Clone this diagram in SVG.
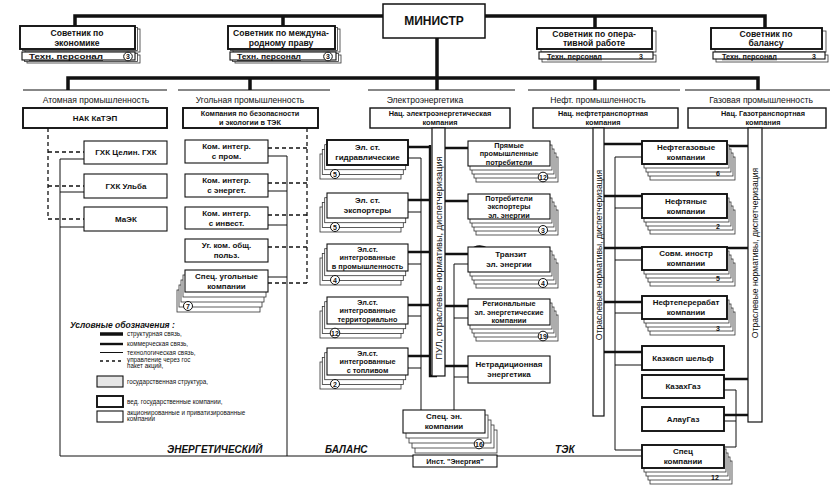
<svg xmlns="http://www.w3.org/2000/svg" width="835" height="494" viewBox="0 0 835 494">
<style>
.b{fill:#fff;stroke:#111;stroke-width:1.1}
.bk{fill:#fff;stroke:#111;stroke-width:1.9}
.c{fill:#fff;stroke:#333;stroke-width:0.8}
.g{fill:#e6e6e6;stroke:#111;stroke-width:1.1}
.t{font-family:"Liberation Sans",Arial,sans-serif;font-size:8px;font-weight:bold;fill:#111;text-anchor:middle}
.s{font-size:7.3px}
.big{font-size:12px}
.adv{font-size:8.6px}
.h{font-family:"Liberation Sans",Arial,sans-serif;font-size:8.6px;fill:#111;text-anchor:middle}
.v{font-family:"Liberation Sans",Arial,sans-serif;font-size:8.6px;fill:#111;text-anchor:middle}
.l{font-family:"Liberation Sans",Arial,sans-serif;font-size:6.3px;fill:#111}
.n{font-family:"Liberation Sans",Arial,sans-serif;font-size:7px;font-weight:bold;fill:#111;text-anchor:middle}
.tp{font-family:"Liberation Sans",Arial,sans-serif;font-size:7px;font-weight:bold;fill:#111;text-decoration:underline}
.it{font-family:"Liberation Sans",Arial,sans-serif;font-weight:bold;font-style:italic;fill:#111}
.ci{fill:#fff;stroke:#111;stroke-width:1}
.st{fill:none;stroke:#111;stroke-width:3.5}
.cm{fill:none;stroke:#111;stroke-width:2.4}
.tc{fill:none;stroke:#111;stroke-width:1}
.ds{fill:none;stroke:#111;stroke-width:1.3;stroke-dasharray:4 3}
.hl{fill:none;stroke:#111;stroke-width:1.2}
.bar{fill:#fff;stroke:#111;stroke-width:1.2}
</style>

<g id="connectors">
<path class="st" d="M75,27 V16 H383 M485,16 H765 V28 M283,16 V26 M595,16 V28"/>
<path class="st" d="M437,38 V90 M68,90 V78 H758 V90 M250,78 V90 M595,78 V90"/>
<path class="hl" d="M23,90 H167 M178,90 H330 M368,90 H515 M528,90 H680 M685,90 H830"/>
<path class="ds" d="M48,128 V219 M48,152 H84 M48,186 H84 M48,219 H84"/>
<path class="tc" d="M84,159 H60 V456 H413 M60,192 H84 M60,227 H84"/>
<path class="ds" d="M307,128 V283 M268,148 H307 M268,183 H307 M268,215 H307 M268,247 H307 M268,283 H307"/>
<path class="tc" d="M287,156 V456 M268,156 H287 M268,191 H287 M268,225 H287 M268,277 H287"/>
<path class="cm" d="M408,147 H430 M408,200 H430 M408,252 H430 M408,305 H430 M408,356 H430 M430,145 V376 H437"/>
<path class="tc" d="M408,158 H421 V410 M408,212 H421 M408,264 H421 M408,316 H421 M408,368 H421"/>
<path class="cm" d="M445,148 H468 M445,201 H468 M445,254 H468 M445,306 H468 M445,366 H468"/>
<path class="cm" d="M470,251 Q478,243 488,249"/>
<path class="tc" d="M468,264 H454 V410 M454,318 H468 M454,377 H468"/>
<path class="tc" d="M497,456 H642"/>
<path class="cm" d="M604,144 H642 M604,196 H642 M604,248 H642 M604,302 H642 M604,352 H642"/>
<path class="tc" d="M642,157 H615 V450 H642 M615,208 H642 M615,260 H642 M615,313 H642 M615,365 H642"/>
<path class="cm" d="M727,146 H748 M727,248 H748 M724,379 H748 M724,415 H748"/>
<path class="tc" d="M724,390 H736 V447 H724 M724,421 H736"/>
</g>

<g id="minister">
<rect class="b" x="383" y="4" width="102" height="34" style="stroke-width:1.5"/>
<text class="t big" x="434" y="25">МИНИСТР</text>
</g>

<g id="adv-economy">
<rect class="c" x="25" y="29" width="115" height="23"/>
<rect class="c" x="22.5" y="27.5" width="115" height="23"/>
<rect class="bk" x="20" y="26" width="115" height="23"/>
<text class="t adv" x="77" y="35.5">Советник по</text>
<text class="t adv" x="77" y="45.5">экономике</text>
<rect class="c" x="27" y="55" width="113" height="8"/>
<rect class="c" x="24.5" y="53.5" width="113" height="8"/>
<rect class="b" x="22" y="52" width="113" height="8"/>
<text class="tp" x="29" y="59" textLength="74" lengthAdjust="spacingAndGlyphs">Техн. персонал</text>
<circle class="ci" cx="128" cy="56.5" r="4.3"/>
<text class="n" x="128" y="59">3</text>
</g>

<g id="adv-law">
<rect class="c" x="233" y="29" width="107" height="23"/>
<rect class="c" x="230.5" y="27.5" width="107" height="23"/>
<rect class="bk" x="228" y="26" width="107" height="23"/>
<text class="t adv" x="281" y="35.5">Советник по междуна-</text>
<text class="t adv" x="281" y="45.5">родному праву</text>
<rect class="c" x="235" y="55" width="106" height="8"/>
<rect class="c" x="232.5" y="53.5" width="106" height="8"/>
<rect class="b" x="230" y="52" width="106" height="8"/>
<text class="tp" x="237" y="59" textLength="64" lengthAdjust="spacingAndGlyphs">Техн. персонал</text>
<circle class="ci" cx="328" cy="56.5" r="4.3"/>
<text class="n" x="328" y="59">3</text>
</g>

<g id="adv-oper">
<rect class="c" x="541" y="31" width="115" height="21"/>
<rect class="bk" x="537" y="28" width="115" height="21"/>
<text class="t adv" x="594" y="36.5">Советник по опера-</text>
<text class="t adv" x="594" y="46">тивной работе</text>
<rect class="c" x="542" y="55" width="114" height="7"/>
<rect class="b" x="539" y="52" width="114" height="7"/>
<text class="tp" x="547" y="58.5" textLength="55" lengthAdjust="spacingAndGlyphs">Техн. персонал</text>
<text class="n" x="641" y="58.5">3</text>
</g>

<g id="adv-balance">
<rect class="c" x="715" y="31" width="111" height="21"/>
<rect class="bk" x="711" y="28" width="111" height="21"/>
<text class="t adv" x="766" y="36.5">Советник по</text>
<text class="t adv" x="766" y="46">балансу</text>
<rect class="c" x="716" y="55" width="112" height="7"/>
<rect class="b" x="713" y="52" width="112" height="7"/>
<text class="tp" x="722" y="58.5" textLength="55" lengthAdjust="spacingAndGlyphs">Техн. персонал</text>
<text class="n" x="814" y="58.5">3</text>
</g>

<g id="headers">
<text class="h" x="96" y="103">Атомная промышленность</text>
<text class="h" x="250" y="103">Угольная промышленность</text>
<text class="h" x="425" y="103">Электроэнергетика</text>
<text class="h" x="598" y="103">Нефт. промышленность</text>
<text class="h" x="761" y="103">Газовая промышленность</text>
</g>

<g id="nak-katep">
<rect class="bk" x="23" y="108" width="144" height="20"/>
<text class="t" x="95" y="121">НАК КаТЭП</text>
</g>
<g id="ghk-celin">
<rect class="b" x="84" y="141" width="83" height="23"/>
<text class="t" x="126" y="155.3">ГХК Целин. ГХК</text>
</g>
<g id="ghk-ulba">
<rect class="b" x="84" y="174" width="83" height="24"/>
<text class="t" x="126" y="189">ГХК Ульба</text>
</g>
<g id="maek">
<rect class="b" x="84" y="207" width="83" height="24"/>
<text class="t" x="126" y="222">МаЭК</text>
</g>

<g id="coal-safety">
<rect class="bk" x="183" y="108" width="135" height="20"/>
<text class="t s" x="250" y="116.4">Компания по безопасности</text>
<text class="t s" x="250" y="125">и экологии в ТЭК</text>
</g>
<g id="coal-1">
<rect class="b" x="185" y="140" width="83" height="23"/>
<text class="t" x="226.5" y="149.3">Ком. интегр.</text>
<text class="t" x="226.5" y="159.3">с пром.</text>
</g>
<g id="coal-2">
<rect class="b" x="185" y="174" width="83" height="23"/>
<text class="t" x="226.5" y="183.3">Ком. интегр.</text>
<text class="t" x="226.5" y="193.3">с энергет.</text>
</g>
<g id="coal-3">
<rect class="b" x="185" y="207" width="83" height="22"/>
<text class="t" x="226.5" y="215.8">Ком. интегр.</text>
<text class="t" x="226.5" y="225.8">с инвест.</text>
</g>
<g id="coal-4">
<rect class="b" x="185" y="239" width="83" height="23"/>
<text class="t" x="226.5" y="248.3">Уг. ком. общ.</text>
<text class="t" x="226.5" y="258.3">польз.</text>
</g>
<g id="coal-spec">
<rect class="c" x="177" y="290" width="83" height="22"/>
<rect class="c" x="179" y="285" width="83" height="22"/>
<rect class="c" x="181" y="280" width="83" height="22"/>
<rect class="c" x="183" y="275" width="83" height="22"/>
<rect class="b" x="185" y="270" width="83" height="22"/>
<text class="t" x="226.5" y="278.8">Спец. угольные</text>
<text class="t" x="226.5" y="288.8">компании</text>
<circle class="ci" cx="188" cy="306" r="4.5"/>
<text class="n" x="188" y="308.5">7</text>
</g>

<g id="elec-nat">
<rect class="b" x="370" y="108" width="140" height="20" style="stroke-width:1.4"/>
<text class="t s" x="440" y="116.4">Нац. электроэнергетическая</text>
<text class="t s" x="440" y="125">компания</text>
</g>
<g id="pul-bar">
<rect class="bar" x="432" y="128" width="13" height="248"/>
<text class="v" transform="translate(441.7,258) rotate(-90)" style="font-size:9.2px">ПУЛ, отраслевые нормативы, диспетчеризация</text>
</g>

<g id="el-hydro">
<rect class="c" x="320" y="154" width="81" height="25"/>
<rect class="c" x="322.3" y="149.4" width="81" height="25"/>
<rect class="c" x="324.7" y="144.7" width="81" height="25"/>
<rect class="bk" x="327" y="140" width="81" height="25"/>
<text class="t" x="367.5" y="150.3">Эл. ст.</text>
<text class="t" x="367.5" y="160.3">гидравлические</text>
<circle class="ci" cx="335" cy="174" r="4.5"/>
<text class="n" x="335" y="176.5">5</text>
</g>
<g id="el-export">
<rect class="c" x="320" y="207" width="81" height="25"/>
<rect class="c" x="322.3" y="202.4" width="81" height="25"/>
<rect class="c" x="324.7" y="197.7" width="81" height="25"/>
<rect class="b" x="327" y="193" width="81" height="25"/>
<text class="t" x="367.5" y="203.3">Эл. ст.</text>
<text class="t" x="367.5" y="213.3">экспортеры</text>
<circle class="ci" cx="335" cy="227" r="4.5"/>
<text class="n" x="335" y="229.5">5</text>
</g>
<g id="el-industry">
<rect class="c" x="320" y="258" width="81" height="27"/>
<rect class="c" x="322.3" y="253.4" width="81" height="27"/>
<rect class="c" x="324.7" y="248.7" width="81" height="27"/>
<rect class="b" x="327" y="244" width="81" height="27"/>
<text class="t s" x="367.5" y="251.6">Эл.ст.</text>
<text class="t s" x="367.5" y="260.1">интегрованные</text>
<text class="t s" x="367.5" y="268.6">в промышленность</text>
<circle class="ci" cx="335" cy="280" r="4.5"/>
<text class="n" x="335" y="282.5">4</text>
</g>
<g id="el-territory">
<rect class="c" x="320" y="311" width="81" height="27"/>
<rect class="c" x="322.3" y="306.4" width="81" height="27"/>
<rect class="c" x="324.7" y="301.7" width="81" height="27"/>
<rect class="b" x="327" y="297" width="81" height="27"/>
<text class="t s" x="367.5" y="304.6">Эл.ст.</text>
<text class="t s" x="367.5" y="313.1">интегрованные</text>
<text class="t s" x="367.5" y="321.6">территориально</text>
<circle class="ci" cx="335" cy="333" r="4.8"/>
<text class="n" x="335" y="335.5">12</text>
</g>
<g id="el-fuel">
<rect class="c" x="320" y="362" width="81" height="27"/>
<rect class="c" x="322.3" y="357.4" width="81" height="27"/>
<rect class="c" x="324.7" y="352.7" width="81" height="27"/>
<rect class="b" x="327" y="348" width="81" height="27"/>
<text class="t s" x="367.5" y="355.6">Эл.ст.</text>
<text class="t s" x="367.5" y="364.1">интегрованные</text>
<text class="t s" x="367.5" y="372.6">с топливом</text>
<circle class="ci" cx="335" cy="384" r="4.5"/>
<text class="n" x="335" y="386.5">2</text>
</g>

<g id="el-direct">
<rect class="c" x="476" y="157" width="82" height="25"/>
<rect class="c" x="474" y="153" width="82" height="25"/>
<rect class="c" x="472" y="149" width="82" height="25"/>
<rect class="c" x="470" y="145" width="82" height="25"/>
<rect class="b" x="468" y="141" width="82" height="25"/>
<text class="t s" x="509" y="147.6">Прямые</text>
<text class="t s" x="509" y="156.1">промышленные</text>
<text class="t s" x="509" y="164.6">потребители</text>
<circle class="ci" cx="543" cy="177" r="4.8"/>
<text class="n" x="543" y="179.5">12</text>
</g>
<g id="el-consumers">
<rect class="c" x="476" y="210" width="82" height="25"/>
<rect class="c" x="474" y="206" width="82" height="25"/>
<rect class="c" x="472" y="202" width="82" height="25"/>
<rect class="c" x="470" y="198" width="82" height="25"/>
<rect class="b" x="468" y="194" width="82" height="25"/>
<text class="t s" x="509" y="200.6">Потребители</text>
<text class="t s" x="509" y="209.1">экспортеры</text>
<text class="t s" x="509" y="217.6">эл. энергии</text>
<circle class="ci" cx="543" cy="230" r="4.5"/>
<text class="n" x="543" y="232.5">3</text>
</g>
<g id="el-transit">
<rect class="c" x="476" y="263" width="82" height="25"/>
<rect class="c" x="474" y="259" width="82" height="25"/>
<rect class="c" x="472" y="255" width="82" height="25"/>
<rect class="c" x="470" y="251" width="82" height="25"/>
<rect class="b" x="468" y="247" width="82" height="25"/>
<text class="t" x="511" y="257.3">Транзит</text>
<text class="t" x="509" y="267.3">эл. энергии</text>
<circle class="ci" cx="543" cy="283" r="4.5"/>
<text class="n" x="543" y="285.5">4</text>
</g>
<g id="el-regional">
<rect class="c" x="476" y="315" width="82" height="26"/>
<rect class="c" x="474" y="311" width="82" height="26"/>
<rect class="c" x="472" y="307" width="82" height="26"/>
<rect class="c" x="470" y="303" width="82" height="26"/>
<rect class="b" x="468" y="299" width="82" height="26"/>
<text class="t s" x="509" y="306.1">Региональные</text>
<text class="t s" x="509" y="314.6">эл. энергетические</text>
<text class="t s" x="509" y="323.1">компании</text>
<circle class="ci" cx="543" cy="336" r="4.8"/>
<text class="n" x="543" y="338.5">19</text>
</g>
<g id="el-nontrad">
<rect class="b" x="468" y="356" width="82" height="27"/>
<text class="t" x="509" y="367.3">Нетрадиционная</text>
<text class="t" x="509" y="377.3">энергетика</text>
</g>

<g id="el-spec">
<rect class="c" x="415" y="430" width="82" height="23"/>
<rect class="c" x="412" y="425" width="82" height="23"/>
<rect class="c" x="409" y="420" width="82" height="23"/>
<rect class="c" x="406" y="415" width="82" height="23"/>
<rect class="b" x="403" y="410" width="82" height="23"/>
<text class="t" x="444" y="419.3">Спец. эн.</text>
<text class="t" x="444" y="429.3">компании</text>
<circle class="ci" cx="479" cy="444" r="4.8"/>
<text class="n" x="479" y="446.5">16</text>
</g>
<g id="inst-energy">
<rect class="b" x="413" y="455" width="84" height="12"/>
<text class="t s" x="455" y="464">Инст. "Энергия"</text>
</g>

<g id="oil-nat">
<rect class="b" x="533" y="108" width="145" height="20" style="stroke-width:1.4"/>
<text class="t s" x="603" y="116.4">Нац. нефтетранспортная</text>
<text class="t s" x="603" y="125">компания</text>
</g>
<g id="oil-bar">
<rect class="bar" x="593" y="128" width="11" height="288"/>
<text class="v" transform="translate(601.5,255) rotate(-90)">Отраслевые нормативы, диспетчеризация</text>
</g>
<g id="gas-nat">
<rect class="b" x="688" y="108" width="138" height="20" style="stroke-width:1.4"/>
<text class="t s" x="763" y="116.4">Нац. Газотранспортная</text>
<text class="t s" x="763" y="125">компания</text>
</g>
<g id="gas-bar">
<rect class="bar" x="748" y="128" width="14" height="294"/>
<text class="v" transform="translate(758,253) rotate(-90)">Отраслевые нормативы, диспетчеризация</text>
</g>

<g id="oilgas-co">
<rect class="c" x="650" y="157" width="85" height="23"/>
<rect class="c" x="648" y="153" width="85" height="23"/>
<rect class="c" x="646" y="149" width="85" height="23"/>
<rect class="c" x="644" y="145" width="85" height="23"/>
<rect class="bk" x="642" y="141" width="85" height="23"/>
<text class="t" x="686" y="150.3">Нефтегазовые</text>
<text class="t" x="686" y="160.3">компании</text>
<text class="n" x="718" y="176">6</text>
</g>
<g id="oil-co">
<rect class="c" x="650" y="210" width="85" height="24"/>
<rect class="c" x="648" y="206" width="85" height="24"/>
<rect class="c" x="646" y="202" width="85" height="24"/>
<rect class="c" x="644" y="198" width="85" height="24"/>
<rect class="bk" x="642" y="194" width="85" height="24"/>
<text class="t" x="686" y="203.8">Нефтяные</text>
<text class="t" x="686" y="213.8">компании</text>
<text class="n" x="718" y="229">2</text>
</g>
<g id="joint-co">
<rect class="c" x="650" y="263" width="85" height="23"/>
<rect class="c" x="648" y="259" width="85" height="23"/>
<rect class="c" x="646" y="255" width="85" height="23"/>
<rect class="c" x="644" y="251" width="85" height="23"/>
<rect class="bk" x="642" y="247" width="85" height="23"/>
<text class="t" x="686" y="256.3">Совм. иностр</text>
<text class="t" x="686" y="266.3">компании</text>
<text class="n" x="718" y="281">5</text>
</g>
<g id="refine-co">
<rect class="c" x="650" y="312" width="85" height="23"/>
<rect class="c" x="648" y="308" width="85" height="23"/>
<rect class="c" x="646" y="304" width="85" height="23"/>
<rect class="c" x="644" y="300" width="85" height="23"/>
<rect class="bk" x="642" y="296" width="85" height="23"/>
<text class="t" x="686" y="305.3">Нефтеперерабат</text>
<text class="t" x="686" y="315.3">компании</text>
<text class="n" x="718" y="331">3</text>
</g>
<g id="kazkasp">
<rect class="bk" x="642" y="346" width="82" height="24"/>
<text class="t" x="683" y="361">Казкасп шельф</text>
</g>
<g id="kazakhgaz">
<rect class="bk" x="642" y="375" width="82" height="23"/>
<text class="t" x="683" y="389.3">КазахГаз</text>
</g>
<g id="alaugaz">
<rect class="bk" x="642" y="407" width="82" height="24"/>
<text class="t" x="683" y="421.8">АлауГаз</text>
</g>
<g id="spec-co">
<rect class="c" x="650" y="461" width="82" height="23"/>
<rect class="c" x="648" y="457" width="82" height="23"/>
<rect class="c" x="646" y="453" width="82" height="23"/>
<rect class="c" x="644" y="449" width="82" height="23"/>
<rect class="bk" x="642" y="445" width="82" height="23"/>
<text class="t" x="683" y="454.3">Спец</text>
<text class="t" x="683" y="464.3">компании</text>
<text class="n" x="715" y="480">12</text>
</g>

<g id="legend">
<text class="it" x="70" y="328" style="font-size:8.5px">Условные обозначения :</text>
<line x1="100" y1="334" x2="123" y2="334" class="st"/>
<line x1="100" y1="344" x2="123" y2="344" class="cm"/>
<line x1="100" y1="352.5" x2="123" y2="352.5" class="tc"/>
<line x1="100" y1="361" x2="123" y2="361" class="ds" style="stroke-dasharray:3 3"/>
<rect class="g" x="97" y="376" width="26" height="11"/>
<rect class="bk" x="97" y="396" width="26" height="11"/>
<rect class="b" x="97" y="411" width="26" height="11"/>
<text class="l" x="127" y="336">структурная связь,</text>
<text class="l" x="127" y="346">коммерческая связь,</text>
<text class="l" x="127" y="354.5">технологическая связь,</text>
<text class="l" x="127" y="362">управление через гос</text>
<text class="l" x="127" y="368">пакет акций,</text>
<text class="l" x="127" y="383.5">государственная структура,</text>
<text class="l" x="127" y="403.5">вед. государственные компании,</text>
<text class="l" x="127" y="415">акционированные и приватизированные</text>
<text class="l" x="127" y="421">компании</text>
</g>

<g id="labels">
<text class="it" x="167" y="453" style="font-size:10px">ЭНЕРГЕТИЧЕСКИЙ</text>
<text class="it" x="325" y="453" style="font-size:10px">БАЛАНС</text>
<text class="it" x="555" y="453" style="font-size:10px">ТЭК</text>
</g>
</svg>
